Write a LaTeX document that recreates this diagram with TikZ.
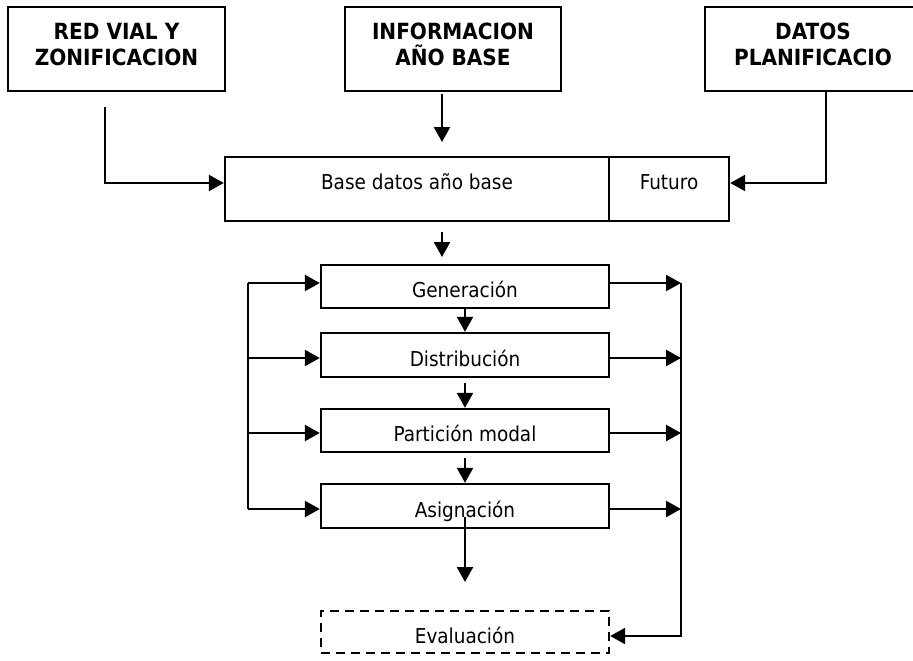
\documentclass[tikz,border=0pt]{standalone}
\usepackage{fontspec}
\setmainfont{DejaVu Sans Condensed}[BoldFont={DejaVu Sans Condensed Bold}]
\usetikzlibrary{arrows.meta,calc}
% extra depth under the last line of the bold two-line headers
\newcommand{\lastlinedepth}{\rule[-9pt]{0pt}{9pt}}
\begin{document}
\begin{tikzpicture}[x=1pt,y=-1pt,
  font=\fontsize{20.5}{26}\selectfont,
  line width=2.4pt,
  box/.style={draw, rectangle, inner sep=0pt, line width=2.4pt},
  head/.style={box, minimum width=216pt, minimum height=84pt,
    align=center, font=\fontsize{22.3}{26}\selectfont\bfseries},
  wide/.style={box, minimum height=64pt, text height=5pt, text depth=5pt},
  stage/.style={box, minimum width=288pt, text height=22pt, text depth=0pt},
  arr/.style={draw, line width=2.4pt, -{Triangle[length=15pt,width=16pt]}},
  bus/.style={draw, line width=2.4pt}]
\useasboundingbox (0,0) rectangle (913,661);
\fill[white] (0,0) rectangle (913,661);

% input boxes
\node[head, minimum width=217pt] (red) at (116.5,49) {RED VIAL Y\\ZONIFICACION\lastlinedepth};
\node[head] (info) at (453,49) {INFORMACION\\AÑO BASE\lastlinedepth};
\node[head] (datos) at (813,49) {DATOS\\PLANIFICACIO\lastlinedepth};

% data base
\node[wide, minimum width=384pt] (base) at (417,189) {Base datos año base};
\node[wide, minimum width=120pt] (futuro) at (669,189) {Futuro};

% model stages
\node[stage, minimum height=43pt] (gen) at (465,286.5) {Generación};
\node[stage, minimum height=44pt] (dist) at (465,355) {Distribución};
\node[stage, minimum height=43pt] (part) at (465,430.5) {Partición modal};
\node[stage, minimum height=44pt] (asig) at (465,506) {Asignación};
\node[stage, minimum height=42pt, dash pattern=on 9pt off 6pt] (eval) at (465,632) {Evaluación};

% inputs into the data base
\coordinate (rA) at (105,107);
\coordinate (rB) at (105,183);
\draw[arr] (rA) -- (rB) -- (rB -| base.west);

\coordinate (iA) at (442,94);
\coordinate (iB) at (442,142);
\draw[arr] (iA) -- (iB);

\coordinate (dB) at (826,183);
\draw[arr] (datos.south -| dB) -- (dB) -- (dB -| futuro.east);

% data base to stages
\coordinate (bA) at (442,232);
\coordinate (bB) at (442,257);
\draw[arr] (bA) -- (bB);

\draw[arr] (gen.south) -- (dist.north);
\coordinate (dpA) at (465,383);
\draw[arr] (dpA) -- (part.north);
\coordinate (paA) at (465,458);
\draw[arr] (paA) -- (asig.north);
\coordinate (asA) at (465,517);
\coordinate (asB) at (465,582);
\draw[arr] (asA) -- (asB);

% feedback bus on the left
\coordinate (L1) at (248,283);
\coordinate (L2) at (248,358);
\coordinate (L3) at (248,433);
\coordinate (L4) at (248,509);
\draw[bus] (L1) -- (L4);
\draw[arr] (L1) -- (L1 -| gen.west);
\draw[arr] (L2) -- (L2 -| dist.west);
\draw[arr] (L3) -- (L3 -| part.west);
\draw[arr] (L4) -- (L4 -| asig.west);

% collector bus on the right
\coordinate (R1) at (681,283);
\coordinate (R2) at (681,358);
\coordinate (R3) at (681,433);
\coordinate (R4) at (681,509);
\coordinate (R5) at (681,636);
\draw[arr] (R1 -| gen.east) -- (R1);
\draw[arr] (R2 -| dist.east) -- (R2);
\draw[arr] (R3 -| part.east) -- (R3);
\draw[arr] (R4 -| asig.east) -- (R4);
\draw[arr] (R1) -- (R5) -- (R5 -| eval.east);
\end{tikzpicture}
\end{document}
